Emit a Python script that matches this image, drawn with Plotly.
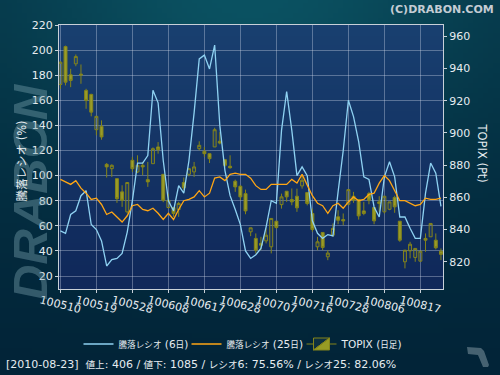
import zlib, struct, base64
import numpy as np
import plotly.graph_objects as go

# ---------------- data ----------------
dates = [
    "100510","100511","100512","100513","100514","100517","100518","100519","100520","100521",
    "100524","100525","100526","100527","100528","100531",
    "100601","100602","100603","100604","100607","100608","100609","100610","100611","100614",
    "100615","100616","100617","100618","100621","100622","100623","100624","100625","100628",
    "100629","100630",
    "100701","100702","100705","100706","100707","100708","100709","100712","100713","100714",
    "100715","100716","100720","100721","100722","100723","100726","100727","100728","100729",
    "100730",
    "100802","100803","100804","100805","100806","100809","100810","100811","100812","100813",
    "100816","100817","100818","100819","100820","100823",
]
tick_dates = ["100510","100519","100528","100608","100617","100628",
              "100707","100716","100728","100806","100817"]

ratio6 = [56,54,69,72,84,88,61,57,48,28, 33,34,38,55,80,110,110,116,168,158,
          112,80,72,92,86,112,150,193,196,185, 204,140,104,84,73,61,40,34,37,42,
          59,80,78,136,167,136,100,107,100,64, 54,50,53,52,87,120,160,147,127,99,
          97,75,67,99,111,99,67,67,58,50, 50,86,110,102,75.56]
ratio25 = [97,95,93,96,90,86,81,82,77,69, 71,67,63,68,76,77,73,72,74,70,
           65,70,65,73,80,81,83,88,83,86, 98,99,96,101,102,101,101,98,92,89,
           89,93,93,93,93,97,94,101,92,84, 78,76,70,76,78,74,79,83,80,81,
           85,86,94,100,96,88,80,80,78,76, 77,82,81,81,82.06]

topix_open = [930.1,953.6,936.1,942.9,936.5,926.4,923.9,902.0,904.1,880.5,
              877.8,871.6,863.4,851.0,883.0,875.8,879.9,871.0,880.9,891.3,
              874.3,853.7,853.7,852.4,869.2,874.3,875.8,890.2,888.6,887.1,
              891.3,894.8,883.4,879.3,870.0,866.9,862.3,838.6,834.5,831.4,
              833.0,829.3,845.2,855.5,863.8,858.6,860.7,867.1,863.0,850.0,
              829.3,838.2,823.1,836.5,847.9,846.2,855.7,860.7,858.6,851.6,
              862.3,853.7,857.2,851.0,852.6,859.9,845.2,820.0,826.8,822.7,
              820.4,834.5,835.5,833.4,826.6]
topix_high = [944.5,954.2,939.8,948.7,942.5,927.4,924.3,910.3,907.8,881.3,
              880.5,871.6,867.5,869.2,885.1,886.1,882.0,882.0,891.0,894.3,
              874.3,862.3,853.7,857.2,872.3,877.8,882.0,894.8,891.3,887.1,
              903.2,900.5,883.4,886.1,871.0,867.5,864.8,841.1,837.6,835.5,
              840.7,846.9,845.2,862.3,863.8,865.5,865.4,873.7,863.0,853.0,
              835.5,838.2,827.2,843.8,852.0,850.0,864.8,863.4,858.6,857.2,
              863.4,853.7,860.7,860.7,857.2,861.0,845.2,827.2,832.4,828.3,
              826.6,837.6,843.8,837.6,828.3]
topix_low = [927.4,929.5,928.4,941.4,930.5,915.0,910.3,898.5,895.8,872.3,
             872.7,856.6,854.1,850.0,875.8,875.1,873.7,866.5,880.9,887.1,
             857.0,853.0,847.9,847.9,864.4,873.0,872.7,889.2,885.1,881.3,
             891.3,892.9,878.9,877.8,863.4,858.2,849.5,835.9,825.2,827.2,
             831.4,825.2,840.5,853.0,857.2,855.1,851.0,865.4,855.0,838.6,
             827.2,827.2,821.0,835.5,843.3,842.7,855.0,856.6,846.2,848.9,
             855.7,843.3,851.0,850.0,852.0,850.4,832.4,815.9,822.1,820.0,
             820.0,826.2,835.5,827.7,821.0]
topix_close = [943.9,931.5,932.6,947.4,936.0,920.2,912.9,910.3,897.5,878.9,
               879.9,859.2,858.2,869.2,877.8,879.9,878.9,869.6,890.2,889.6,
               858.2,858.2,850.0,856.2,865.9,877.8,878.9,892.3,887.1,884.0,
               902.0,893.7,879.9,878.4,866.5,860.3,851.6,841.1,827.2,830.3,
               836.5,846.9,841.3,860.3,860.3,857.2,853.5,870.6,856.2,840.0,
               832.4,828.9,825.4,840.7,845.8,845.4,864.8,858.2,848.5,850.0,
               858.2,845.4,856.2,860.7,857.2,854.1,833.4,827.2,830.9,828.3,
               826.6,833.4,843.8,828.7,824.6]

left_ticks = list(range(20, 221, 20))
right_ticks = list(range(820, 961, 20))


def cjk(s, size):
    return '<span style="font-size:{}px">{}</span>'.format(size, s)


name6 = cjk("騰落レシオ", 8.6) + " (6" + cjk("日", 8.6) + ")"
name25 = cjk("騰落レシオ", 8.6) + " (25" + cjk("日", 8.6) + ")"
name_tp = "TOPIX (" + cjk("日足", 8.6) + ")"
footer = ("[2010-08-23]  " + cjk("値上", 9.6) + ": 406 / " + cjk("値下", 9.6) + ": 1085 / "
          + cjk("レシオ", 9.6) + "6: 75.56% / " + cjk("レシオ", 9.6) + "25: 82.06%")

# ---------------- layout geometry ----------------
W, H = 500, 375
ML, MR, MT, MB = 59, 57, 25, 86
PW, PH = W - ML - MR, H - MT - MB


def px_x(x):
    return (x - ML) / PW


def px_y(y):
    return (H - MB - y) / PH


def png_uri(arr):
    arr = np.clip(arr, 0, 255).astype(np.uint8)
    h, w, _ = arr.shape
    raw = b"".join(b"\x00" + arr[r].tobytes() for r in range(h))

    def chunk(t, d):
        return struct.pack(">I", len(d)) + t + d + struct.pack(">I", zlib.crc32(t + d) & 0xffffffff)

    png = (b"\x89PNG\r\n\x1a\n" + chunk(b"IHDR", struct.pack(">IIBBBBB", w, h, 8, 2, 0, 0, 0))
           + chunk(b"IDAT", zlib.compress(raw)) + chunk(b"IEND", b""))
    return "data:image/png;base64," + base64.b64encode(png).decode()


# background gradients (decoration only)
gh, gw = 75, 100
v = np.linspace(0, 1, gh)[:, None, None]
u = np.linspace(0, 1, gw)[None, :, None]
base_top = np.array([5, 52, 70])
base_bot = np.array([2, 36, 56])
glow = np.array([6, 30, 28])
f = np.exp(-((u - 0.5) / 0.45) ** 2 - (v / 0.45) ** 2)
paper_img = base_top + (base_bot - base_top) * v + glow * f
paper_img = np.broadcast_to(paper_img, (gh, gw, 3))

ph_, pw_ = 60, 4
vv = np.linspace(0, 1, ph_)[:, None, None]
plot_top = np.array([25, 64, 112])
plot_bot = np.array([16, 40, 90])
plot_img = np.broadcast_to(plot_top + (plot_bot - plot_top) * vv, (ph_, pw_, 3))

FONT = "DejaVu Sans, Noto Sans CJK JP, sans-serif"
TXT = "#e6ecf0"
AXC = "#c8d0d8"
GRID = "rgba(210,220,235,0.36)"
OLIVE = "#84841a"

fig = go.Figure()

fig.add_trace(go.Candlestick(
    x=dates, open=topix_open, high=topix_high, low=topix_low, close=topix_close,
    name=name_tp, yaxis="y", legendrank=3, legendwidth=60,
    increasing=dict(line=dict(color=OLIVE, width=1), fillcolor="rgba(255,255,200,0.05)"),
    decreasing=dict(line=dict(color=OLIVE, width=1), fillcolor="rgba(165,165,35,0.92)"),
    whiskerwidth=0,
))
fig.add_trace(go.Scatter(
    x=dates, y=ratio6, mode="lines", name=name6, yaxis="y2", legendrank=1, legendwidth=63,
    line=dict(color="#8fd2f2", width=1.3),
))
fig.add_trace(go.Scatter(
    x=dates, y=ratio25, mode="lines", name=name25, yaxis="y2", legendrank=2, legendwidth=70,
    line=dict(color="#ffa614", width=1.3),
))

fig.update_layout(
    template="none",
    width=W, height=H,
    margin=dict(l=ML, r=MR, t=MT, b=MB, pad=0, autoexpand=False),
    paper_bgcolor="#032a3e",
    plot_bgcolor="rgba(0,0,0,0)",
    font=dict(family=FONT, size=11, color=TXT),
    boxgap=0.18,
    showlegend=True,
    legend=dict(orientation="h", x=px_x(242.5), xanchor="center", y=px_y(344), yanchor="middle",
                font=dict(size=10.5, color=TXT), bgcolor="rgba(0,0,0,0)",
                itemwidth=30, tracegroupgap=0),
    xaxis=dict(
        type="category", categoryorder="array", categoryarray=dates,
        range=[-0.27, 74.4], rangeslider=dict(visible=False), automargin=False,
        tickmode="array", tickvals=tick_dates, ticktext=tick_dates,
        tickangle=14, ticklabelshift=-20, ticklabelstandoff=-3,
        ticks="outside", ticklen=3, tickcolor=AXC,
        showline=True, linecolor=AXC, linewidth=1, mirror=True,
        showgrid=True, gridcolor=GRID, gridwidth=1, zeroline=False,
        tickfont=dict(size=11, color=TXT), fixedrange=True,
    ),
    yaxis=dict(
        side="right", range=[803.1, 967.0], automargin=False,
        tickmode="array", tickvals=right_ticks,
        ticks="outside", ticklen=3, tickcolor=AXC,
        showline=True, linecolor=AXC, linewidth=1,
        showgrid=False, zeroline=False,
        tickfont=dict(size=11, color=TXT),
    ),
    yaxis2=dict(
        side="left", overlaying="y", range=[9.65, 220], automargin=False,
        tickmode="array", tickvals=left_ticks,
        ticks="outside", ticklen=3, tickcolor=AXC,
        showline=True, linecolor=AXC, linewidth=1, mirror=True,
        showgrid=True, gridcolor=GRID, gridwidth=1, zeroline=False,
        tickfont=dict(size=11, color=TXT),
    ),
    images=[
        dict(source=png_uri(paper_img), xref="paper", yref="paper",
             x=px_x(0), y=px_y(0), sizex=W / PW, sizey=H / PH,
             xanchor="left", yanchor="top", sizing="stretch", layer="below"),
        dict(source=png_uri(plot_img), xref="paper", yref="paper",
             x=0, y=1, sizex=1, sizey=1,
             xanchor="left", yanchor="top", sizing="stretch", layer="below"),
    ],
    shapes=[
        dict(type="path", xref="paper", yref="paper",
             path="M {:.4f} {:.4f} L {:.4f} {:.4f} L {:.4f} {:.4f} L {:.4f} {:.4f} L {:.4f} {:.4f} "
                  "L {:.4f} {:.4f} L {:.4f} {:.4f} L {:.4f} {:.4f} Z".format(
                      px_x(467), px_y(347), px_x(481), px_y(348), px_x(484), px_y(351),
                      px_x(489), px_y(365), px_x(488), px_y(367), px_x(483), px_y(367),
                      px_x(478), px_y(355), px_x(468), px_y(354)),
             fillcolor="rgba(100,125,138,0.7)", line=dict(width=0), layer="below"),
    ],
    annotations=[
        dict(text="DRABON", xref="paper", yref="paper", x=px_x(30), y=px_y(192),
             showarrow=False, textangle=-90, xanchor="center", yanchor="middle",
             font=dict(family="Liberation Sans, Arial, sans-serif", size=49,
                       color="rgba(120,160,172,0.42)", weight="bold", style="italic")),
        dict(text="(C)DRABON.COM", xref="paper", yref="paper", x=px_x(496), y=px_y(9),
             showarrow=False, xanchor="right", yanchor="middle",
             font=dict(family=FONT, size=11, color="#c4ccd4", weight="bold")),
        dict(text="騰落レシオ (%)", xref="paper", yref="paper", x=px_x(21.5), y=px_y(161),
             showarrow=False, textangle=-90, xanchor="center", yanchor="middle",
             font=dict(family=FONT, size=11.5, color=TXT)),
        dict(text="TOPIX (Pt)", xref="paper", yref="paper", x=px_x(481.5), y=px_y(153),
             showarrow=False, textangle=90, xanchor="center", yanchor="middle",
             font=dict(family=FONT, size=11.5, color=TXT)),
        dict(text=footer, xref="paper", yref="paper", x=px_x(4), y=px_y(364),
             showarrow=False, xanchor="left", yanchor="middle",
             font=dict(family=FONT, size=11, color=TXT)),
    ],
)

fig.write_html("out.html", config={"displayModeBar": False},
               post_script="document.body.style.margin='0px';document.body.style.overflow='hidden';")
